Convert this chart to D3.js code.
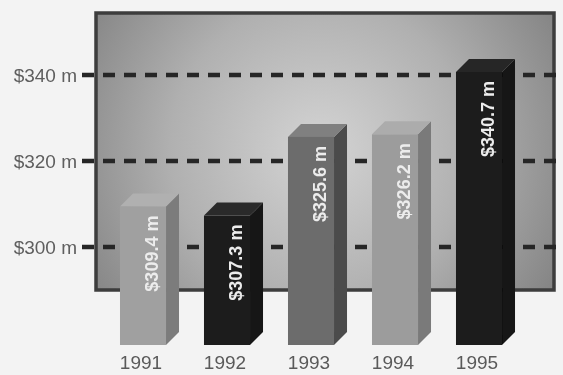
<!DOCTYPE html>
<html>
<head>
<meta charset="utf-8">
<script src="https://cdn.jsdelivr.net/npm/d3@7"></script>
<style>
  html, body { margin: 0; padding: 0; background: #f3f3f3; }
  svg { display: block; }
  text { font-family: "Liberation Sans", Arial, Helvetica, sans-serif; }
</style>
</head>
<body>
<svg id="chart" width="563" height="375"></svg>
<script>
// Annual totals, in millions of dollars
const years = ["1991", "1992", "1993", "1994", "1995"];
const values = [309.4, 307.3, 325.6, 326.2, 340.7];
const valueLabels = ["$309.4 m", "$307.3 m", "$325.6 m", "$326.2 m", "$340.7 m"];
const gridValues = [300, 320, 340];
const gridLabels = ["$300 m", "$320 m", "$340 m"];
// front / side / top shades for each bar
const fronts = ["#a0a0a0", "#1e1e1e", "#6c6c6c", "#9c9c9c", "#1c1c1c"];
const sides  = ["#7c7c7c", "#141414", "#4c4c4c", "#7a7a7a", "#121212"];
const tops   = ["#b0b0b0", "#2a2a2a", "#808080", "#acacac", "#282828"];

const W = 563, H = 375;
const svg = d3.select("#chart");

const defs = svg.append("defs");
const grad = defs.append("radialGradient")
  .attr("id", "panelGrad")
  .attr("gradientUnits", "userSpaceOnUse")
  .attr("cx", 320).attr("cy", 150).attr("r", 300);
grad.append("stop").attr("offset", 0).attr("stop-color", "#d4d4d4");
grad.append("stop").attr("offset", 0.5).attr("stop-color", "#b0b0b0");
grad.append("stop").attr("offset", 1).attr("stop-color", "#7a7a7a");

defs.append("filter").attr("id", "soft")
  .attr("x", "-5%").attr("y", "-5%").attr("width", "110%").attr("height", "110%")
  .append("feGaussianBlur").attr("stdDeviation", 0.6);

const g = svg.append("g").attr("filter", "url(#soft)");

// scales
const x = d3.scaleBand().domain(years).range([101, 521])
  .paddingInner(0.452).paddingOuter(0.226);
const y = d3.scaleLinear().domain([300, 340]).range([247, 75]);
const baseValue = y.invert(345);
const depth = 13;

// backdrop panel
const panel = { x0: 96, x1: 554, top: y.invert(13), bottom: y.invert(290) };
g.append("rect")
  .attr("x", panel.x0).attr("y", y(panel.top))
  .attr("width", panel.x1 - panel.x0).attr("height", y(panel.bottom) - y(panel.top))
  .attr("fill", "url(#panelGrad)")
  .attr("stroke", "#3c3c3c").attr("stroke-width", 3.5);

// dashed grid lines
g.selectAll("line.grid").data(gridValues).join("line")
  .attr("class", "grid")
  .attr("x1", 82).attr("x2", W)
  .attr("y1", d => y(d)).attr("y2", d => y(d))
  .attr("stroke", "#262626").attr("stroke-width", 4.5)
  .attr("stroke-dasharray", "12 9");

// grid labels
g.selectAll("text.ylab").data(gridValues).join("text")
  .attr("class", "ylab")
  .attr("x", 77).attr("y", d => y(d) + 6.5)
  .attr("text-anchor", "end")
  .attr("font-size", 19)
  .attr("fill", "#5e5e5e")
  .text((d, i) => gridLabels[i]);

// 3D bars
const bars = g.selectAll("g.bar").data(values).join("g").attr("class", "bar");
bars.each(function (v, i) {
  const b = d3.select(this);
  const x0 = x(years[i]), x1 = x0 + x.bandwidth();
  const yt = y(v), yb = y(baseValue);
  // side face
  b.append("path")
    .attr("d", `M${x1},${yt} L${x1 + depth},${yt - depth} L${x1 + depth},${yb - depth} L${x1},${yb} Z`)
    .attr("fill", sides[i]);
  // top face
  b.append("path")
    .attr("d", `M${x0},${yt} L${x0 + depth},${yt - depth} L${x1 + depth},${yt - depth} L${x1},${yt} Z`)
    .attr("fill", tops[i]);
  // front face
  b.append("rect")
    .attr("x", x0).attr("y", yt)
    .attr("width", x.bandwidth()).attr("height", yb - yt)
    .attr("fill", fronts[i]);
  // value label, reading upward
  const tx = x0 + x.bandwidth() / 2 + 9, ty = yt + 9;
  b.append("text")
    .attr("transform", `translate(${tx},${ty}) rotate(-90)`)
    .attr("text-anchor", "end")
    .attr("dy", "0.36em")
    .attr("font-size", 18)
    .attr("font-weight", "bold")
    .attr("fill", "#ececec")
    .text(valueLabels[i]);
});

// year labels
g.selectAll("text.year").data(years).join("text")
  .attr("class", "year")
  .attr("x", d => x(d) + x.bandwidth() / 2 - 2)
  .attr("y", 369)
  .attr("text-anchor", "middle")
  .attr("font-size", 19)
  .attr("fill", "#5a5a5a")
  .text(d => d);
</script>
</body>
</html>
